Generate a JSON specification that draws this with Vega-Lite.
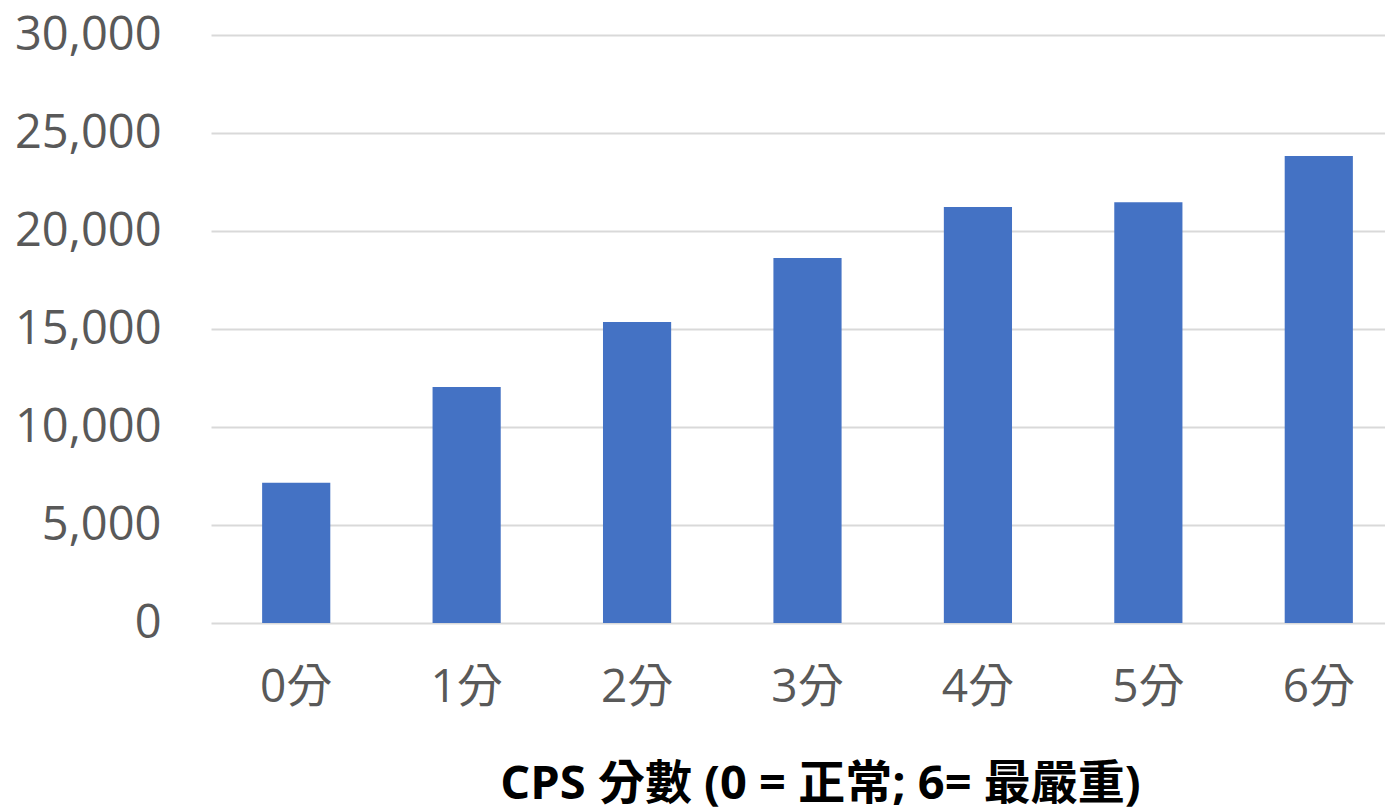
{
  "$schema": "https://vega.github.io/schema/vega-lite/v6.json",
  "autosize": {"type": "none"},
  "padding": {"left": 211, "top": 35, "right": 0, "bottom": 184},
  "width": 1174,
  "height": 588,
  "background": "white",
  "config": {"view": {"stroke": null}},
  "data": {"values": [
    {"score": "0分", "count": 7150},
    {"score": "1分", "count": 12040},
    {"score": "2分", "count": 15360},
    {"score": "3分", "count": 18620},
    {"score": "4分", "count": 21230},
    {"score": "5分", "count": 21470},
    {"score": "6分", "count": 23830}
  ]},
  "mark": {"type": "bar", "color": "#4472C4"},
  "encoding": {
    "x": {
      "field": "score", "type": "nominal", "sort": null,
      "scale": {"range": [0, 1193], "paddingInner": 0.6, "paddingOuter": 0.3},
      "axis": {
        "title": "CPS 分數 (0 = 正常; 6= 最嚴重)",
        "labelAngle": 0, "domain": false, "ticks": false,
        "labelFont": "Open Sans, Noto Sans CJK TC", "labelFontSize": 46, "labelColor": "#595959",
        "labelPadding": 42,
        "titleFont": "Open Sans, Noto Sans CJK TC", "titleFontSize": 47, "titleFontWeight": "bold", "titleColor": "#000000",
        "titleX": 609, "titleY": 175, "titleBaseline": "alphabetic", "titleAnchor": "middle", "titleAlign": "center"
      }
    },
    "y": {
      "field": "count", "type": "quantitative",
      "scale": {"domain": [0, 30000], "nice": false},
      "axis": {
        "title": null, "values": [0, 5000, 10000, 15000, 20000, 25000, 30000], "format": ",d",
        "domain": false, "ticks": false, "gridColor": "#d9d9d9", "gridWidth": 2,
        "labelFont": "Open Sans", "labelFontSize": 47, "labelColor": "#595959", "labelPadding": 50
      }
    }
  }
}
